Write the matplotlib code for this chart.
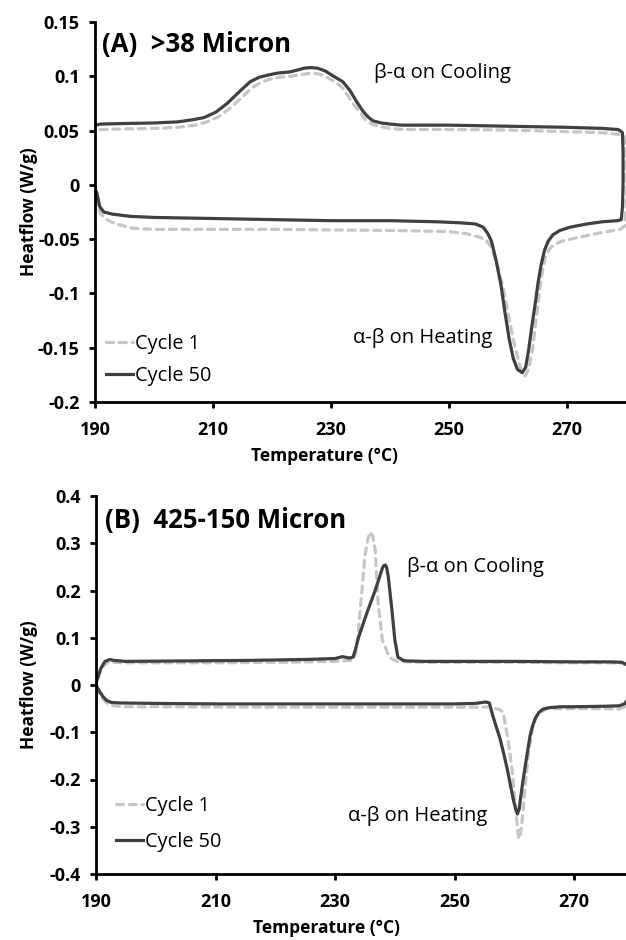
import matplotlib
matplotlib.use('Agg')
import matplotlib.pyplot as plt

plt.rcParams['font.family'] = ['Open Sans', 'DejaVu Sans']

# ---- Panel A (>38 micron): heating 190->280, then cooling 280->190 ----
a50_T = [190.0, 190.3, 190.8, 191.5, 193, 196, 200, 210, 220, 230, 240, 248, 252, 254.5,
         255.8, 256.6, 257.2, 258.0, 258.8, 259.5, 260.2, 260.9, 261.6, 262.4, 263.0, 263.5,
         264.0, 264.6, 265.1, 265.6, 266.2, 266.8, 267.6, 268.8, 270.5, 273.4, 276, 278.5,
         279.2, 279.4, 279.5, 279.5, 279.4, 279.0,
         278.6, 276, 270, 260, 250, 242, 240, 238.5, 237.1, 236.2, 235.4, 234.3, 233.2, 232.0,
         230.3, 229, 227.7, 226.6, 225.5, 224.5, 223, 221, 219.2, 217.8, 216.3, 214.5, 212.4,
         210.5, 208.5, 206.6, 204, 200, 195, 191, 190]
a50_H = [-0.004, -0.007, -0.020, -0.025, -0.027, -0.029, -0.030, -0.031, -0.032, -0.033, -0.033,
         -0.034, -0.035, -0.036, -0.039, -0.045, -0.052, -0.070, -0.092, -0.118, -0.142, -0.160,
         -0.170, -0.173, -0.168, -0.152, -0.132, -0.110, -0.090, -0.074, -0.060, -0.052, -0.046,
         -0.042, -0.039, -0.036, -0.034, -0.033, -0.032, -0.020, 0.0, 0.030, 0.048, 0.050,
         0.051, 0.052, 0.053, 0.054, 0.055, 0.055, 0.056, 0.057, 0.059, 0.063, 0.068, 0.077,
         0.087, 0.095, 0.1005, 0.105, 0.1075, 0.108, 0.1075, 0.106, 0.104, 0.103, 0.101, 0.099,
         0.095, 0.086, 0.075, 0.067, 0.062, 0.060, 0.058, 0.057, 0.0565, 0.056, 0.055]

a1_T = [190.0, 190.4, 191, 192, 193.5, 196.4, 200, 220, 240, 250, 253, 255, 256.1, 257.2,
        258.2, 259.2, 260.0, 260.8, 261.5, 262.2, 262.9, 263.5, 264.2, 264.8, 265.4, 265.9,
        266.3, 266.9, 267.6, 269, 271.5, 274, 276.8, 279, 279.8, 280, 280.1, 280.0, 279.8, 279.3,
        278, 276, 270, 260, 250, 242, 240, 238, 237, 236, 235, 234, 233, 232, 231, 230, 229,
        228, 227, 226, 225, 223, 221, 219.5, 218, 216.5, 215, 213, 211, 209, 207, 204, 200,
        195, 191, 190]
a1_H = [-0.012, -0.020, -0.027, -0.032, -0.036, -0.040, -0.041, -0.041, -0.042, -0.043, -0.045,
        -0.048, -0.050, -0.057, -0.075, -0.095, -0.118, -0.140, -0.156, -0.170, -0.176, -0.170,
        -0.150, -0.122, -0.095, -0.078, -0.067, -0.060, -0.056, -0.052, -0.049, -0.046, -0.043,
        -0.041, -0.038, -0.020, 0.0, 0.030, 0.044, 0.046,
        0.047, 0.048, 0.049, 0.0505, 0.051, 0.051, 0.052, 0.054, 0.056, 0.059, 0.066, 0.073,
        0.081, 0.089, 0.094, 0.097, 0.100, 0.102, 0.103, 0.1025, 0.1015, 0.100, 0.099, 0.097,
        0.094, 0.089, 0.081, 0.071, 0.063, 0.058, 0.055, 0.053, 0.052, 0.0515, 0.051, 0.050]

# ---- Panel B (425-150 micron) ----
b50_T = [190.0, 190.5, 191.2, 191.8, 192.6, 194, 200, 210, 220, 230, 240, 250, 253.5, 254.6,
         255.2, 255.8, 256.4, 257.0, 257.6, 258.2, 258.8, 259.3, 259.8, 260.2, 260.5, 260.8,
         261.0, 261.4, 261.8, 262.2, 262.6, 263.0, 263.5, 264.1, 264.8, 265.8, 267.7, 270, 275,
         277.5, 278.4, 279, 279.6, 279.8, 279.6, 278.8, 278,
         276, 270, 260, 250, 245, 242, 241.4, 240.5, 240.0, 239.5, 238.9, 238.6, 238.4, 238.1,
         237.9, 236.7, 235.3, 233.9, 233.4, 233.0, 232.4, 231.2, 230, 225, 215, 205, 195, 193,
         192.3, 191.5, 190.8, 190.3, 190.0]
b50_H = [0.000, -0.012, -0.025, -0.033, -0.037, -0.038, -0.039, -0.040, -0.040, -0.040, -0.040,
         -0.040, -0.039, -0.037, -0.036, -0.038, -0.066, -0.090, -0.114, -0.145, -0.178, -0.210,
         -0.242, -0.262, -0.273, -0.262, -0.242, -0.205, -0.172, -0.140, -0.108, -0.088, -0.070,
         -0.058, -0.051, -0.048, -0.046, -0.046, -0.045, -0.044, -0.040, -0.030, -0.010, 0.010,
         0.030, 0.043, 0.048,
         0.049, 0.049, 0.050, 0.050, 0.050, 0.051, 0.052, 0.059, 0.095, 0.159, 0.229, 0.250,
         0.254, 0.252, 0.247, 0.200, 0.152, 0.100, 0.075, 0.059, 0.057, 0.060, 0.056, 0.054,
         0.052, 0.051, 0.050, 0.052, 0.054, 0.050, 0.035, 0.015, 0.005]

b1_T = [190.0, 190.6, 191.3, 192, 193, 195, 200, 220, 240, 250, 254, 256, 256.8, 257.5, 258.1,
        258.9, 259.6, 260.1, 260.5, 260.7, 261.0, 261.3, 261.8, 262.3, 263.0, 263.5, 264.2,
        265.5, 267, 270, 275, 277.5, 278.5, 279.2, 279.7, 279.8, 279.6, 278.8, 278,
        276, 270, 260, 250, 245, 242, 240.4, 239.5, 238.9, 238.4, 237.9, 237.5, 237.2, 236.9,
        236.7, 236.3, 235.9, 235.5, 235.0, 234.6, 234.2, 233.8, 233.3, 232.6, 230, 220, 210,
        200, 195, 193, 192.2, 191.2, 190.5, 190.0]
b1_H = [-0.005, -0.020, -0.032, -0.040, -0.044, -0.046, -0.046, -0.047, -0.047, -0.047, -0.047,
        -0.046, -0.050, -0.052, -0.057, -0.114, -0.178, -0.248, -0.300, -0.326, -0.315, -0.284,
        -0.214, -0.150, -0.093, -0.072, -0.058, -0.050, -0.050, -0.050, -0.050, -0.051, -0.046,
        -0.035, -0.010, 0.010, 0.030, 0.042, 0.046,
        0.047, 0.047, 0.048, 0.048, 0.048, 0.049, 0.050, 0.055, 0.064, 0.080, 0.095, 0.140,
        0.174, 0.240, 0.286, 0.315, 0.324, 0.310, 0.275, 0.215, 0.159, 0.100, 0.060, 0.052,
        0.050, 0.048, 0.047, 0.047, 0.047, 0.048, 0.049, 0.040, 0.022, 0.010]

x_ticks = [190, 210, 230, 250, 270]
a_yticks = [0.15, 0.1, 0.05, 0, -0.05, -0.1, -0.15, -0.2]
a_ylabels = ['0.15', '0.1', '0.05', '0', '-0.05', '-0.1', '-0.15', '-0.2']
b_yticks = [0.4, 0.3, 0.2, 0.1, 0, -0.1, -0.2, -0.3, -0.4]
b_ylabels = ['0.4', '0.3', '0.2', '0.1', '0', '-0.1', '-0.2', '-0.3', '-0.4']

C1 = '#c6c6c6'
C50 = '#404040'

fig = plt.figure(figsize=(6.26, 9.4), dpi=100)
axA = fig.add_axes([95 / 626, 1 - 402 / 940, (626 - 95) / 626, 380 / 940])
axB = fig.add_axes([96 / 626, 1 - 874 / 940, (634 - 96) / 626, 378 / 940])


def style_axes(ax, yticks, ylabels, ylim, xlab_x, xlab_y):
    for s in ['top', 'right']:
        ax.spines[s].set_visible(False)
    for s in ['left', 'bottom']:
        ax.spines[s].set_linewidth(2.0)
    ax.set_xlim(190, 280)
    ax.set_ylim(*ylim)
    ax.set_xticks(x_ticks)
    ax.set_xticklabels([str(t) for t in x_ticks])
    ax.set_yticks(yticks)
    ax.set_yticklabels(ylabels)
    ax.tick_params(direction='out', length=4.5, width=2, labelsize=13)
    ax.tick_params(axis='x', pad=9)
    ax.tick_params(axis='y', pad=6.5)
    for lab in ax.get_xticklabels() + ax.get_yticklabels():
        lab.set_fontweight('bold')
    ax.set_xlabel('Temperature (°C)', fontsize=12.5, fontweight='bold')
    ax.set_ylabel('Heatflow (W/g)', fontsize=12.5, fontweight='bold')
    ax.xaxis.set_label_coords(xlab_x, xlab_y)
    ax.yaxis.set_label_coords(-0.108, 0.5)


def draw(ax, t1, h1, t50, h50):
    ax.plot(t1, h1, color=C1, lw=2.3, linestyle=(0, (2.2, 1.8)),
            dash_capstyle='round', label='Cycle 1')
    ax.plot(t50, h50, color=C50, lw=2.3, label='Cycle 50')


draw(axA, a1_T, a1_H, a50_T, a50_H)
style_axes(axA, a_yticks, a_ylabels, (-0.2, 0.15), 0.433, -0.118)
axA.text(191.2, 0.129, '(A)  >38 Micron', fontsize=18.5, fontweight='bold', va='center')
axA.text(237.3, 0.103, 'β-α on Cooling', fontsize=14.5, va='center')
axA.text(257.3, -0.141, 'α-β on Heating', fontsize=14.5, va='center', ha='right')
axA.legend(loc='upper left', bbox_to_anchor=(0.021, 0.179), frameon=False, fontsize=14.3,
           handlelength=1.35, handletextpad=0.1, labelspacing=0.62, borderpad=0,
           borderaxespad=0)

draw(axB, b1_T, b1_H, b50_T, b50_H)
style_axes(axB, b_yticks, b_ylabels, (-0.4, 0.4), 0.428, -0.119)
axB.text(191.5, 0.349, '(B)  425-150 Micron', fontsize=18.5, fontweight='bold', va='center')
axB.text(242.0, 0.25, 'β-α on Cooling', fontsize=14.5, va='center')
axB.text(255.4, -0.277, 'α-β on Heating', fontsize=14.5, va='center', ha='right')
axB.legend(loc='upper left', bbox_to_anchor=(0.037, 0.206), frameon=False, fontsize=14.3,
           handlelength=1.35, handletextpad=0.1, labelspacing=0.8, borderpad=0,
           borderaxespad=0)

fig.savefig('out.png', dpi=100)
